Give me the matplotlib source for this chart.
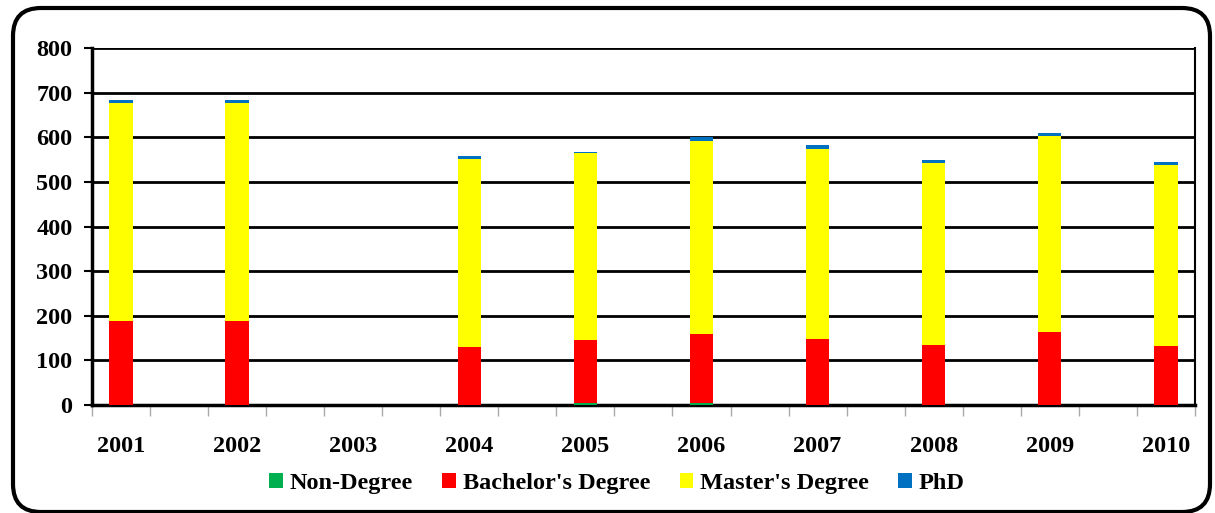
import matplotlib
matplotlib.use("Agg")
import matplotlib.pyplot as plt
from matplotlib.patches import FancyBboxPatch
import numpy as np

years = ["2001", "2002", "2003", "2004", "2005", "2006", "2007", "2008", "2009", "2010"]
non_degree = [1, 1, 0, 1, 4, 4, 0, 0, 0, 0]
bachelor = [188, 188, 0, 128, 142, 156, 148, 135, 163, 133]
master = [489, 489, 0, 423, 418, 431, 427, 407, 440, 405]
phd = [5, 5, 0, 6, 4, 9, 7, 7, 7, 7]

series = [
    ("Non-Degree", non_degree, "#00B050"),
    ("Bachelor's Degree", bachelor, "#FF0000"),
    ("Master's Degree", master, "#FFFF00"),
    ("PhD", phd, "#0070C0"),
]

plt.rcParams["font.family"] = "Liberation Serif"
plt.rcParams["font.weight"] = "bold"

fig = plt.figure(figsize=(12.15, 5.13), dpi=100)
ax = fig.add_axes([0.0757, 0.2105, 0.9078, 0.6955])

# each year sits in every other slot, like the original sheet
x = np.arange(len(years)) * 2
bottom = np.zeros(len(years))
for name, vals, col in series:
    ax.bar(x, vals, width=0.4, bottom=bottom, color=col, label=name, zorder=3)
    bottom += np.array(vals)

ax.set_xlim(-0.5, 18.5)
ax.set_ylim(0, 800)
ax.set_yticks(range(0, 801, 100))
ax.set_xticks(x)
ax.set_xticklabels(years)
ax.set_xticks(np.arange(-0.5, 19, 1), minor=True)
ax.yaxis.grid(True, color="black", linewidth=2, zorder=0)
ax.set_axisbelow(True)

ax.tick_params(axis="y", labelsize=17.5, length=6, width=1.5, pad=8)
ax.tick_params(axis="x", which="major", labelsize=17.5, length=0, pad=22)
ax.tick_params(axis="x", which="minor", length=8, width=1, color="#aaaaaa")

ax.spines["left"].set_linewidth(2.5)
ax.spines["bottom"].set_linewidth(2.5)
ax.spines["right"].set_linewidth(1.5)
ax.spines["top"].set_visible(False)

ax.legend(loc="upper center", bbox_to_anchor=(0.476, -0.13), ncol=4, frameon=False,
          fontsize=17.5, handlelength=0.55, handleheight=0.55, handletextpad=0.3,
          columnspacing=1.2)

border = FancyBboxPatch((0.13, 0.01), 11.97, 5.04,
                        boxstyle="round,pad=0,rounding_size=0.28",
                        transform=fig.dpi_scale_trans, fill=False,
                        edgecolor="black", linewidth=3)
fig.patches.append(border)

fig.savefig("out.png", dpi=100)
